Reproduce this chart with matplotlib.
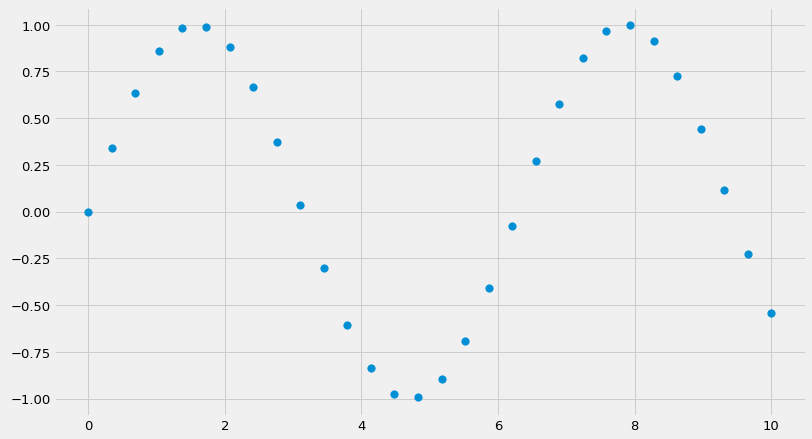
import matplotlib
matplotlib.use("Agg")
import matplotlib.pyplot as plt

x_vals = [0.0, 0.345, 0.690, 1.034, 1.379, 1.724, 2.069, 2.414, 2.759, 3.103,
          3.448, 3.793, 4.138, 4.483, 4.828, 5.172, 5.517, 5.862, 6.207, 6.552,
          6.897, 7.241, 7.586, 7.931, 8.276, 8.621, 8.966, 9.310, 9.655, 10.0]
y_vals = [0.0, 0.338, 0.637, 0.859, 0.982, 0.988, 0.879, 0.665, 0.372, 0.038,
          -0.303, -0.607, -0.839, -0.975, -0.994, -0.893, -0.693, -0.410, -0.076, 0.270,
          0.578, 0.822, 0.966, 0.997, 0.913, 0.726, 0.440, 0.117, -0.227, -0.544]

plt.style.use('fivethirtyeight')
dpi = 812 / 12.0
fig = plt.figure(figsize=(12.0, 6.5), dpi=dpi)
ax = fig.add_axes([54.0 / 812, 1 - 417.0 / 440, (805.5 - 54.0) / 812, (417.0 - 7.5) / 440])
ax.plot(x_vals, y_vals, 'o', markersize=7.7)
fig.savefig('out.png', dpi=dpi)
